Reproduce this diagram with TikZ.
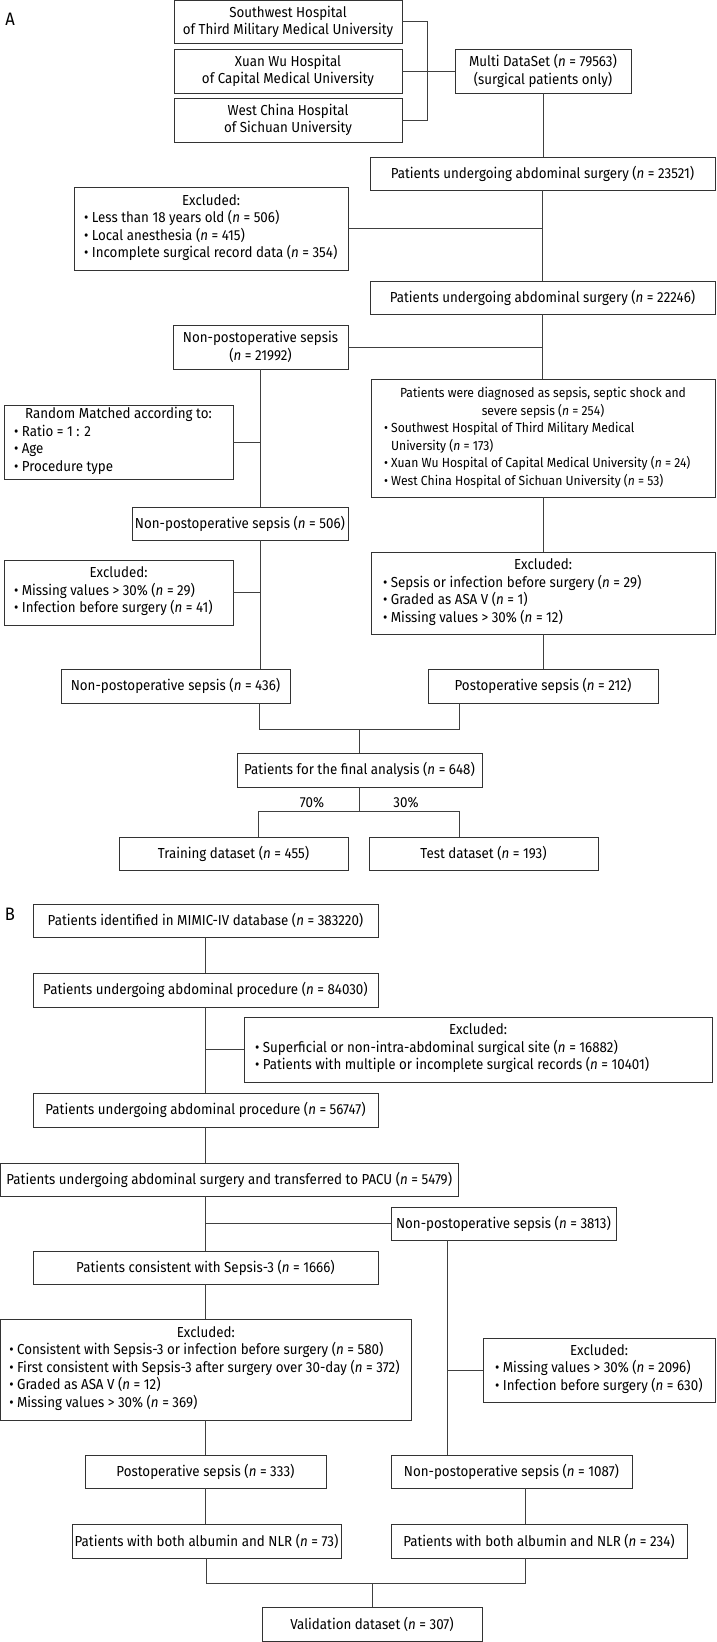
\documentclass[tikz,border=0pt]{standalone}
\usepackage{fontspec}
\setmainfont{Fira Sans}[FakeStretch=0.92]
\newcommand\myn{\textit{n}}
\newcommand\mylist[3]{\begin{minipage}{#1pt}\centering #2\par\raggedright\begin{tabular}[t]{@{}l@{}}#3\end{tabular}\end{minipage}}
\newcommand\mybox[6]{\node[box, minimum width={(#4-#2)*1pt}, minimum height={(#5-#3)*1pt}] (#1) at ({(#2+#4)/2},{(#3+#5)/2}) {#6};}
\tikzset{
  box/.style={draw=black!80, line width=0.9pt, fill=white, inner sep=0pt, align=center, font=\fontsize{14.5}{17.5}\selectfont},
  ln/.style={draw=black!75, line width=0.9pt},
  lbl/.style={font=\fontsize{14.5}{17}\selectfont, inner sep=0pt},
  panel/.style={font=\fontsize{18}{20}\selectfont, inner sep=0pt}
}
\begin{document}
\begin{tikzpicture}[x=1pt,y=-1pt]
\useasboundingbox (0,0) rectangle (716,1642);
\node[panel] (labA) at (10,19) {A};
\node[panel] (labB) at (10,914) {B};
% Panel A
\mybox{sw}{174}{0.8}{402}{43}{Southwest Hospital\\of Third Military Medical University}
\mybox{xw}{174}{49}{402}{93}{Xuan Wu Hospital\\of Capital Medical University}
\mybox{wc}{174}{98}{402}{142}{West China Hospital\\of Sichuan University}
\mybox{multi}{455}{49}{631}{93}{Multi DataSet (\myn{} = 79563)\\(surgical patients only)}
\mybox{p1}{370}{157}{715}{190}{Patients undergoing abdominal surgery (\myn{} = 23521)}
\mybox{ex1}{74}{187}{348}{270}{\mylist{254}{Excluded:}{• Less than 18 years old (\myn{} = 506)\\• Local anesthesia (\myn{} = 415)\\• Incomplete surgical record data (\myn{} = 354)}}
\mybox{p2}{370}{281}{715}{314}{Patients undergoing abdominal surgery (\myn{} = 22246)}
\mybox{np1}{173}{325}{348}{369}{Non-postoperative sepsis\\(\myn{} = 21992)}
\mybox{rnd}{4}{405}{233}{479}{\mylist{209}{Random Matched according to:}{• Ratio = 1 : 2\\• Age\\• Procedure type}}
\mybox{s254}{371}{379}{715}{497}{\fontsize{13.2}{17.5}\selectfont\mylist{318}{\begin{tabular}[b]{@{}c@{}}Patients were diagnosed as sepsis, septic shock and\\severe sepsis (\myn{} = 254)\end{tabular}}{• Southwest Hospital of Third Military Medical\\\phantom{• }University (\myn{} = 173)\\• Xuan Wu Hospital of Capital Medical University (\myn{} = 24)\\• West China Hospital of Sichuan University (\myn{} = 53)}}
\mybox{n506}{132}{507}{348}{540}{Non-postoperative sepsis (\myn{} = 506)}
\mybox{ex2}{4}{560}{233}{625}{\mylist{209}{Excluded:}{• Missing values > 30\% (\myn{} = 29)\\• Infection before surgery (\myn{} = 41)}}
\mybox{ex3}{371}{552}{715}{634}{\mylist{320}{Excluded:}{• Sepsis or infection before surgery (\myn{} = 29)\\• Graded as ASA V (\myn{} = 1)\\• Missing values > 30\% (\myn{} = 12)}}
\mybox{n436}{61}{669}{290}{703}{Non-postoperative sepsis (\myn{} = 436)}
\mybox{p212}{428}{669}{658}{703}{Postoperative sepsis (\myn{} = 212)}
\mybox{final}{237}{753}{482}{787}{Patients for the final analysis (\myn{} = 648)}
\mybox{train}{119}{837}{348}{870}{Training dataset (\myn{} = 455)}
\mybox{test}{369}{837}{598}{870}{Test dataset (\myn{} = 193)}
% Panel A connectors
\coordinate (brk) at (427,0);
\draw[ln] (sw.east) -| (brk |- wc.east) -- (wc.east);
\draw[ln] (xw.east) -- (multi.west);
\draw[ln] (multi.south) -- (multi.south |- p1.north);
\draw[ln] (p1.south) -- (p1.south |- p2.north);
\draw[ln] (ex1.east) -- (ex1.east -| p1.south);
\draw[ln] (p2.south) -- (p2.south |- s254.north);
\draw[ln] (np1.east) -- (np1.east -| p2.south);
\draw[ln] (np1.south) -- (np1.south |- n506.north);
\draw[ln] (rnd.east) -- (rnd.east -| np1.south);
\draw[ln] (np1.south |- n506.south) -- (np1.south |- n436.north);
\draw[ln] (ex2.east) -- (ex2.east -| np1.south);
\draw[ln] (s254.south) -- (s254.south |- ex3.north);
\draw[ln] (ex3.south) -- (ex3.south |- p212.north);
\coordinate (jL) at (259,729);
\coordinate (jR) at (459,729);
\draw[ln] (n436.south -| jL) -- (jL) -- (jR) -- (p212.south -| jR);
\draw[ln] (final.north) -- (final.north |- jL);
\coordinate (sL) at (258,811);
\coordinate (sR) at (459,811);
\draw[ln] (final.south) -- (final.south |- sL);
\draw[ln] (train.north -| sL) -- (sL) -- (sR) -- (test.north -| sR);
\node[lbl] (l70) at (312,803) {70\%};
\node[lbl] (l30) at (406,803) {30\%};
% Panel B
\mybox{mimic}{33}{904}{378}{937}{Patients identified in MIMIC-IV database (\myn{} = 383220)}
\mybox{b84}{33}{973}{378}{1007}{Patients undergoing abdominal procedure (\myn{} = 84030)}
\mybox{exB1}{244}{1017}{712}{1082}{\mylist{446}{Excluded:}{• Superficial or non-intra-abdominal surgical site (\myn{} = 16882)\\• Patients with multiple or incomplete surgical records (\myn{} = 10401)}}
\mybox{b56}{33}{1093}{378}{1127}{Patients undergoing abdominal procedure (\myn{} = 56747)}
\mybox{pacu}{0.5}{1163}{458}{1196}{Patients undergoing abdominal surgery and transferred to PACU (\myn{} = 5479)}
\mybox{np3813}{391}{1207}{616}{1240}{Non-postoperative sepsis (\myn{} = 3813)}
\mybox{sep3}{33}{1251}{378}{1284}{Patients consistent with Sepsis-3 (\myn{} = 1666)}
\mybox{exB2}{0.5}{1319}{411}{1420}{\mylist{393}{Excluded:}{• Consistent with Sepsis-3 or infection before surgery (\myn{} = 580)\\• First consistent with Sepsis-3 after surgery over 30-day (\myn{} = 372)\\• Graded as ASA V (\myn{} = 12)\\• Missing values > 30\% (\myn{} = 369)}}
\mybox{exB3}{483}{1338}{715}{1402}{\mylist{208}{Excluded:}{• Missing values > 30\% (\myn{} = 2096)\\• Infection before surgery (\myn{} = 630)}}
\mybox{p333}{85}{1455}{326}{1488}{Postoperative sepsis (\myn{} = 333)}
\mybox{p1087}{391}{1455}{632}{1488}{Non-postoperative sepsis (\myn{} = 1087)}
\mybox{nlr73}{72}{1524}{341}{1558}{Patients with both albumin and NLR (\myn{} = 73)}
\mybox{nlr234}{391}{1524}{687}{1558}{Patients with both albumin and NLR (\myn{} = 234)}
\mybox{valid}{262}{1607}{482}{1641}{Validation dataset (\myn{} = 307)}
% Panel B connectors
\draw[ln] (mimic.south) -- (mimic.south |- b84.north);
\draw[ln] (b84.south) -- (b84.south |- b56.north);
\draw[ln] (exB1.west) -- (exB1.west -| b84.south);
\draw[ln] (b56.south) -- (b56.south |- pacu.north);
\draw[ln] (sep3.north |- pacu.south) -- (sep3.north);
\draw[ln] (np3813.west) -- (np3813.west -| sep3.north);
\draw[ln] (sep3.south) -- (sep3.south |- exB2.north);
\draw[ln] (sep3.south |- exB2.south) -- (sep3.south |- p333.north);
\coordinate (vR) at (447,0);
\draw[ln] (vR |- np3813.south) -- (vR |- p1087.north);
\draw[ln] (exB3.west) -- (exB3.west -| vR);
\draw[ln] (sep3.south |- p333.south) -- (sep3.south |- nlr73.north);
\coordinate (vR2) at (525,0);
\draw[ln] (vR2 |- p1087.south) -- (vR2 |- nlr234.north);
\coordinate (kL) at (206,1583);
\coordinate (kR) at (525,1583);
\draw[ln] (kL |- nlr73.south) -- (kL) -- (kR) -- (kR |- nlr234.south);
\draw[ln] (valid.north) -- (valid.north |- kL);
\end{tikzpicture}
\end{document}
